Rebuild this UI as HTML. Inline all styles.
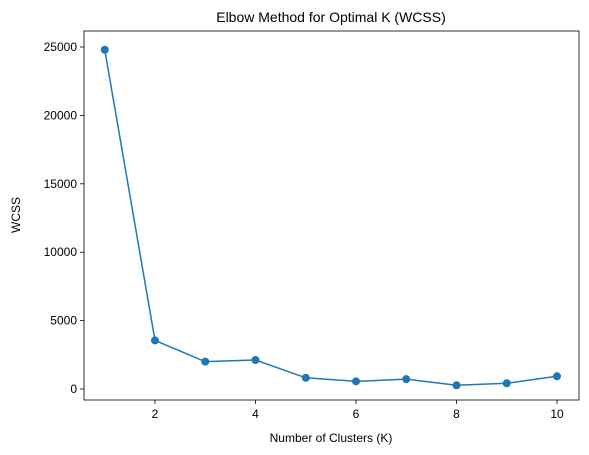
<!DOCTYPE html>
<html><head><meta charset="utf-8">
<style>
html,body{margin:0;padding:0;background:#fff;}
svg{display:block;font-family:"Liberation Sans","DejaVu Sans",sans-serif;}
</style></head>
<body>
<svg id="chart" width="589" height="455" viewBox="0 0 589 455">
<rect x="0" y="0" width="589" height="455" fill="#fff"/>
<text x="331" y="22" text-anchor="middle" font-size="14" fill="#000">Elbow Method for Optimal K (WCSS)</text>
<g id="plot"></g>
<rect x="84" y="31" width="495" height="369" fill="none" stroke="#000" stroke-width="0.8"/>
<text x="331" y="442" text-anchor="middle" font-size="12" fill="#000">Number of Clusters (K)</text>
<text x="0" y="0" transform="translate(20,215) rotate(-90)" text-anchor="middle" font-size="12" fill="#000">WCSS</text>
</svg>
<script>
const kValues=[1,2,3,4,5,6,7,8,9,10];
const wcssValues=[24800,3550,2000,2120,820,560,720,270,420,930];
const xTicks=[2,4,6,8,10];
const yTicks=[0,5000,10000,15000,20000,25000];
const ns="http://www.w3.org/2000/svg";
const X=v=>155+(v-2)*50.25;
const Y=v=>389-v*(342/25000);
const g=document.getElementById('plot');
function mk(t,a){const e=document.createElementNS(ns,t);for(const k in a)e.setAttribute(k,a[k]);return e;}
xTicks.forEach(t=>{
 const l=mk('line',{x1:X(t),x2:X(t),y1:400,y2:404,stroke:'#000','stroke-width':0.8});
 
 
 g.appendChild(l);
 const tx=mk('text',{x:X(t),y:418,'text-anchor':'middle','font-size':12,fill:'#000'});
 tx.textContent=t;
 
 
 g.appendChild(tx);
});
yTicks.forEach(t=>{
 const l=mk('line',{x1:80,x2:84,y1:Y(t),y2:Y(t),stroke:'#000','stroke-width':0.8});
 
 
 g.appendChild(l);
 const tx=mk('text',{x:77,y:Y(t)+4,'text-anchor':'end','font-size':12,fill:'#000'});
 tx.textContent=t;
 
 
 g.appendChild(tx);
});
const pts=kValues.map((k,i)=>X(k)+','+Y(wcssValues[i])).join(' ');
const line=mk('polyline',{points:pts,fill:'none',stroke:'#1f77b4','stroke-width':1.5});


g.appendChild(line);
kValues.forEach((k,i)=>{
 const c=mk('circle',{cx:X(k),cy:Y(wcssValues[i]),r:4,fill:'#1f77b4'});
 
 
 g.appendChild(c);
});
</script>
</body></html>
